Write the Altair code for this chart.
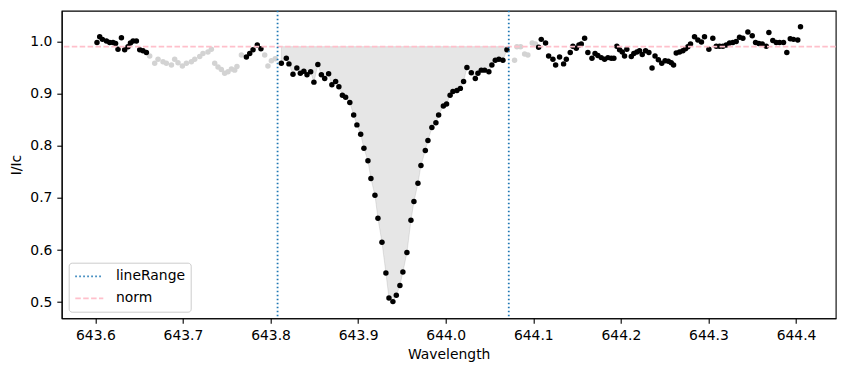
import altair as alt
import pandas as pd

# Observed spectrum around the line (wavelength in nm, normalised intensity)
wavelength = [
    643.6018, 643.6049, 643.6080, 643.6126, 643.6163, 643.6201, 643.6230, 643.6258,
    643.6297, 643.6334, 643.6372, 643.6400, 643.6430, 643.6468, 643.6506, 643.6543,
    643.6582,
    643.6620, 643.6677, 643.6715, 643.6772, 643.6810, 643.6868, 643.6905, 643.6943,
    643.6993, 643.7039, 643.7096, 643.7134, 643.7191, 643.7228, 643.7285, 643.7324,
    643.7362, 643.7400, 643.7438, 643.7476, 643.7514, 643.7553, 643.7590, 643.7616,
    643.7667,
    643.7724, 643.7762, 643.7800, 643.7848, 643.7890,
    643.7933, 643.7970, 643.8009, 643.8053,
    643.8123, 643.8180, 643.8210, 643.8256, 643.8300, 643.8340, 643.8380, 643.8416,
    643.8458, 643.8495, 643.8540, 643.8580, 643.8618, 643.8663, 643.8700, 643.8743,
    643.8780, 643.8820, 643.8857, 643.8905, 643.8949, 643.8986, 643.9029, 643.9066,
    643.9112, 643.9146, 643.9192, 643.9226, 643.9272, 643.9317, 643.9352, 643.9397,
    643.9436, 643.9477, 643.9511, 643.9557, 643.9603, 643.9637, 643.9683, 643.9717,
    643.9767, 643.9797, 643.9842, 643.9888, 643.9919, 643.9973, 644.0010, 644.0050,
    644.0082, 644.0128, 644.0167, 644.0204, 644.0242, 644.0292, 644.0338, 644.0368,
    644.0406, 644.0444, 644.0493, 644.0527, 644.0566, 644.0607, 644.0653, 644.0699,
    644.0786, 644.0813, 644.0855, 644.0901, 644.0938, 644.0988, 644.1023,
    644.1061, 644.1091, 644.1140, 644.1175, 644.1224, 644.1255, 644.1300, 644.1346,
    644.1377, 644.1422, 644.1452, 644.1491, 644.1521, 644.1548, 644.1586, 644.1623,
    644.1670, 644.1705, 644.1737, 644.1776, 644.1814, 644.1852, 644.1890, 644.1920,
    644.1954, 644.1985, 644.2016, 644.2042, 644.2068, 644.2119, 644.2148, 644.2183,
    644.2213, 644.2244, 644.2282, 644.2320, 644.2356, 644.2390, 644.2428, 644.2467,
    644.2505, 644.2542, 644.2575, 644.2602, 644.2632, 644.2670, 644.2708, 644.2738,
    644.2765, 644.2795, 644.2841, 644.2879, 644.2920, 644.2955, 644.3005, 644.3050,
    644.3089, 644.3127, 644.3165, 644.3203, 644.3241, 644.3279, 644.3317, 644.3355,
    644.3393, 644.3450, 644.3500, 644.3538, 644.3575, 644.3614, 644.3660, 644.3690,
    644.3735, 644.3774, 644.3812, 644.3857, 644.3895, 644.3934, 644.3971, 644.4020,
    644.4051,
]

flux = [
    0.998, 1.009, 1.004, 1.001, 0.998, 0.998, 0.996, 0.985,
    1.007, 0.984, 0.990, 0.997, 1.001, 1.001, 0.984, 0.982,
    0.979,
    0.972, 0.958, 0.966, 0.961, 0.958, 0.955, 0.966, 0.959,
    0.953, 0.958, 0.961, 0.966, 0.971, 0.977, 0.980, 0.985,
    0.958, 0.951, 0.946, 0.939, 0.942, 0.947, 0.945, 0.952,
    0.974,
    0.970, 0.977, 0.984, 0.993, 0.986,
    0.974, 0.953, 0.963, 0.967,
    0.958, 0.968, 0.957, 0.937, 0.949, 0.939, 0.943, 0.936,
    0.942, 0.922, 0.956, 0.936, 0.929, 0.938, 0.917, 0.923,
    0.913, 0.897, 0.893, 0.883, 0.859, 0.840, 0.822, 0.795,
    0.771, 0.737, 0.705, 0.661, 0.615, 0.556, 0.508, 0.501,
    0.513, 0.532, 0.558, 0.595, 0.657, 0.693, 0.728, 0.762,
    0.791, 0.810, 0.835, 0.844, 0.859, 0.876, 0.880, 0.897,
    0.904, 0.906, 0.910, 0.923, 0.950, 0.940, 0.929, 0.939,
    0.945, 0.945, 0.942, 0.955, 0.964, 0.966, 0.964, 0.984,
    0.964, 0.990, 0.990, 0.976, 0.974, 0.997, 0.995,
    0.989, 1.004, 0.997, 0.972, 0.966, 0.955, 0.970, 0.957,
    0.966, 0.979, 0.991, 0.987, 0.993, 0.995, 1.006, 0.979,
    0.968, 0.977, 0.973, 0.969, 0.966, 0.969, 0.968, 0.968,
    0.991, 0.984, 0.980, 0.972, 0.985, 0.971, 0.977, 0.980,
    0.982, 0.975, 0.982, 0.979, 0.949, 0.972, 0.965, 0.958,
    0.963, 0.962, 0.959, 0.955, 0.978, 0.980, 0.982, 0.986,
    0.990, 0.995, 1.009, 1.003, 0.999, 1.009, 0.985, 1.006,
    0.991, 0.991, 0.991, 0.993, 0.997, 0.998, 1.000, 1.008,
    1.006, 1.018, 1.011, 0.998, 0.996, 0.995, 0.991, 1.017,
    1.002, 0.998, 0.998, 0.998, 0.979, 1.005, 1.004, 1.003,
    1.028,
]

# Wavelength windows left out of the continuum fit (drawn in grey)
excluded_windows = [(643.660, 643.770), (643.791, 643.809), (644.075, 644.104)]
line_range = [643.808, 644.072]
norm_level = 0.99

legend_names = ["lineRange", "norm"]
legend_colors = ["#1f77b4", "#ffc0cb"]
legend_dashes = [[1.5, 2.5], [5.5, 2.4]]

x_ticks = [643.6, 643.7, 643.8, 643.9, 644.0, 644.1, 644.2, 644.3, 644.4]
y_ticks = [0.5, 0.6, 0.7, 0.8, 0.9, 1.0]

spec = pd.DataFrame({"wavelength": wavelength, "flux": flux})
spec["excluded"] = False
for lo, hi in excluded_windows:
    spec.loc[(spec.wavelength >= lo) & (spec.wavelength <= hi), "excluded"] = True
spec["norm"] = norm_level
in_line = spec[(spec.wavelength >= line_range[0]) & (spec.wavelength <= line_range[1])]

range_df = pd.DataFrame({"value": line_range, "series": ["lineRange"] * len(line_range)})
norm_df = pd.DataFrame({"value": [norm_level], "series": ["norm"]})

x_scale = alt.Scale(domain=[643.5615, 644.4453], nice=False, zero=False)
y_scale = alt.Scale(domain=[0.469, 1.059], nice=False, zero=False)
color_scale = alt.Scale(domain=legend_names, range=legend_colors)
dash_scale = alt.Scale(domain=legend_names, range=legend_dashes)

axis_common = dict(
    format=".1f", grid=False, tickSize=4.9, labelPadding=4.9, tickColor="black",
    domainColor="black", domainWidth=1.1, tickWidth=1.1, labelColor="black",
    labelFontSize=13.9, labelFont="DejaVu Sans", titleFont="DejaVu Sans",
    titleFontSize=13.9, titleFontWeight="normal", titleColor="black",
)
x_axis = alt.Axis(values=x_ticks, title="Wavelength", titlePadding=5, **axis_common)
y_axis = alt.Axis(values=y_ticks, title="I/Ic", titlePadding=6, **axis_common)

fill = alt.Chart(in_line).mark_area(
    fill="#808080", fillOpacity=0.2, stroke="#808080", strokeOpacity=0.2, strokeWidth=1
).encode(
    x=alt.X("wavelength:Q", scale=x_scale, axis=x_axis),
    y=alt.Y("flux:Q", scale=y_scale, axis=y_axis),
    y2="norm:Q",
)

points = alt.Chart(spec).mark_circle(size=30, opacity=1).encode(
    x=alt.X("wavelength:Q", scale=x_scale, axis=x_axis),
    y=alt.Y("flux:Q", scale=y_scale, axis=y_axis),
    color=alt.condition("datum.excluded", alt.value("#d3d3d3"), alt.value("black")),
    order=alt.Order("excluded:N", sort="descending"),
)

legend_color = alt.Color("series:N", scale=color_scale, title=None)
legend_dash = alt.StrokeDash("series:N", scale=dash_scale, title=None)

range_rules = alt.Chart(range_df).mark_rule(strokeWidth=1.8).encode(
    x=alt.X("value:Q", scale=x_scale, axis=x_axis),
    color=legend_color,
    strokeDash=legend_dash,
)

norm_rule = alt.Chart(norm_df).mark_rule(strokeWidth=1.7).encode(
    y=alt.Y("value:Q", scale=y_scale, axis=y_axis),
    color=legend_color,
    strokeDash=legend_dash,
)

chart = alt.layer(fill, points, norm_rule, range_rules).properties(
    width=774,
    height=307.6,
    autosize=alt.AutoSizeParams(type="none"),
    padding={"left": 61.7, "top": 10.7, "right": 10.3, "bottom": 52.7},
).configure_view(
    stroke="black", strokeWidth=1.1
).configure_legend(
    orient="bottom-left",
    offset=7,
    padding=5.6,
    strokeColor="#cccccc",
    fillColor="white",
    cornerRadius=3,
    symbolType="M-1,0H3",
    symbolSize=196,
    symbolStrokeWidth=1.7,
    labelOffset=25.6,
    labelFont="DejaVu Sans",
    labelFontSize=13.9,
    labelColor="black",
    rowPadding=7,
)

chart.save("out.html", embed_options={"renderer": "svg", "actions": False})
